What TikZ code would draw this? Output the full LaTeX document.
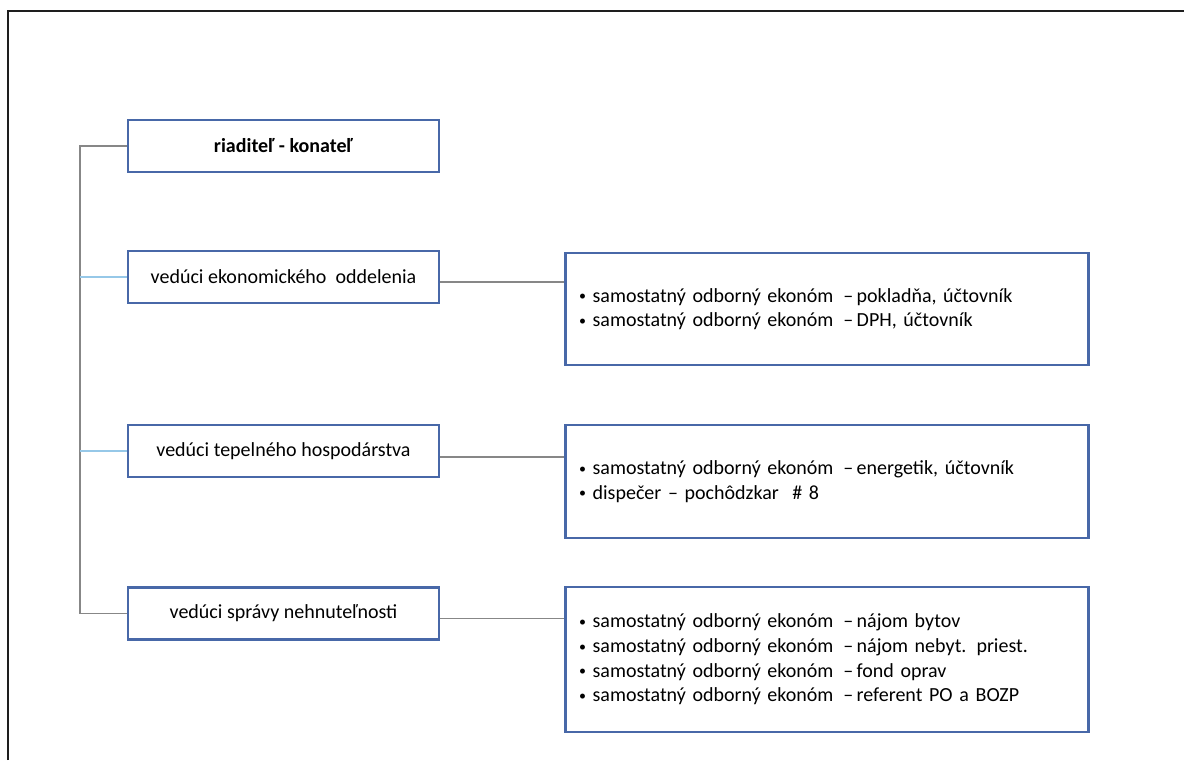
\documentclass[tikz,border=0pt]{standalone}
\usepackage{fontspec}
\setmainfont{Carlito}
\usepackage{tikz}
\usepackage{xcolor}
\definecolor{boxblue}{RGB}{72,104,168}
\definecolor{linegray}{RGB}{135,135,135}
\definecolor{lineblue}{RGB}{150,200,232}
\newcommand{\bul}{\raisebox{1pt}{\scalebox{0.7}{•}}\ }

\begin{document}
\begin{tikzpicture}[x=0.75pt,y=0.75pt,yscale=-1,xscale=1,
  lbox/.style={draw=boxblue,line width=1.9pt,fill=white,minimum width=233pt,minimum height=39pt,inner sep=0pt,font=\fontsize{15}{18}\selectfont},
  rbox/.style={draw=boxblue,line width=1.9pt,fill=white,text width=372pt,inner xsep=10pt,inner ysep=0pt,align=left,font=\fontsize{15}{18.5}\selectfont},
  trunk/.style={draw=linegray,line width=0.8pt},
  twig/.style={draw=lineblue,line width=0.8pt},
  link/.style={draw=linegray,line width=0.8pt}]
%set diagram to the size of the scan
\useasboundingbox (0,0) rectangle (1184,760);

%Shape: frame of the scan
\draw [line width=1.5pt,color={rgb, 255:red, 30; green, 30; blue, 30 }] (8,760) -- (8,11) -- (1184,11) ;

% Left column
\draw (283.5,146) node [lbox] (boss) {\textbf{riaditeľ - konateľ}};
\draw (283.5,277) node [lbox] (econ) {vedúci ekonomického \ oddelenia};
\draw (283.5,451) node [lbox] (heat) {vedúci tepelného hospodárstva};
\draw (283.5,613.5) node [lbox] (prop) {vedúci správy nehnuteľnosti};

% Right column
\draw (827,309) node [rbox,minimum height=84pt] (econstaff) {\bul samostatný odborný ekonóm \,–\,pokladňa, účtovník\\\bul samostatný odborný ekonóm \,–\,DPH, účtovník};
\draw (827,481.5) node [rbox,minimum height=85pt] (heatstaff) {\bul samostatný odborný ekonóm \,–\,energetik, účtovník\\\bul dispečer – pochôdzkar \ \# 8};
\draw (827,659.5) node [rbox,minimum height=109pt] (propstaff) {\bul samostatný odborný ekonóm \,–\,nájom bytov\\\bul samostatný odborný ekonóm \,–\,nájom nebyt. priest.\\\bul samostatný odborný ekonóm \,–\,fond oprav\\\bul samostatný odborný ekonóm \,–\,referent PO a BOZP};

% Connectors
\coordinate (spine) at (80,0);
\draw [trunk] (boss.west) -- (boss.west -| spine) -- (prop.west -| spine) -- (prop.west);
\draw [twig] (econ.west) -- (econ.west -| spine);
\draw [twig] (heat.west) -- (heat.west -| spine);
\coordinate (e1) at ([yshift=3.75pt]econ.east);
\coordinate (h1) at ([yshift=4.5pt]heat.east);
\coordinate (p1) at ([yshift=4pt]prop.east);
\draw [link] (e1) -- (e1 -| econstaff.west);
\draw [link] (h1) -- (h1 -| heatstaff.west);
\draw [link] (p1) -- (p1 -| propstaff.west);

\end{tikzpicture}
\end{document}
